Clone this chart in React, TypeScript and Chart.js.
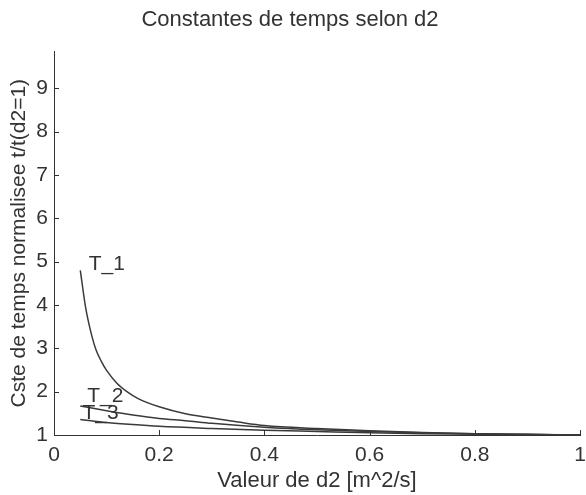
import React, { useEffect, useRef } from "react";
import { Chart, registerables } from "chart.js";

Chart.register(...registerables);

const titleText = "Constantes de temps selon d2";
const xTitle = "Valeur de d2 [m^2/s]";
const yTitle = "Cste de temps normalisee t/t(d2=1)";

const xTicks = [0, 0.2, 0.4, 0.6, 0.8, 1];
const yTicks = [1, 2, 3, 4, 5, 6, 7, 8, 9];

const t1X = [0.05, 0.06, 0.07, 0.08, 0.09, 0.1, 0.12, 0.14, 0.16, 0.2, 0.25, 0.3, 0.35, 0.4, 0.5, 0.6, 0.7, 0.8, 0.9, 1.0];
const t1Y = [4.8, 3.95, 3.38, 2.96, 2.7, 2.49, 2.19, 1.99, 1.84, 1.65, 1.49, 1.39, 1.3, 1.22, 1.15, 1.1, 1.06, 1.03, 1.015, 1.0];

const t2X = [0.05, 0.1, 0.15, 0.2, 0.25, 0.3, 0.4, 0.5, 0.6, 0.7, 0.8, 0.9, 1.0];
const t2Y = [1.67, 1.56, 1.46, 1.38, 1.33, 1.27, 1.18, 1.12, 1.08, 1.05, 1.03, 1.01, 1.0];

const t3X = [0.05, 0.1, 0.15, 0.2, 0.3, 0.4, 0.5, 0.6, 0.7, 0.8, 0.9, 1.0];
const t3Y = [1.36, 1.29, 1.24, 1.2, 1.15, 1.11, 1.08, 1.05, 1.03, 1.02, 1.01, 1.0];

const labelTexts = ["T_1", "T_2", "T_3"];
const labelX = [0.066, 0.063, 0.054];
const labelY = [4.93, 1.9, 1.51];

const FONT = "'Liberation Sans', Arial, Helvetica, sans-serif";
const INK = "#333333";

const toPts = (xs: number[], ys: number[]) => xs.map((x, i) => ({ x, y: ys[i] }));

const decorPlugin = {
  id: "decor",
  afterDatasetsDraw(chart: any) {
    const { ctx, chartArea, scales } = chart;
    const xs = scales.x;
    const ys = scales.y;
    ctx.save();
    ctx.strokeStyle = INK;
    ctx.lineWidth = 1;
    ctx.beginPath();
    xTicks.forEach((v) => {
      const px = Math.round(xs.getPixelForValue(v)) + 0.5;
      ctx.moveTo(px, chartArea.bottom);
      ctx.lineTo(px, chartArea.bottom - 5);
    });
    yTicks.forEach((v) => {
      const py = Math.round(ys.getPixelForValue(v)) + 0.5;
      ctx.moveTo(chartArea.left, py);
      ctx.lineTo(chartArea.left + 5, py);
    });
    ctx.stroke();
    ctx.fillStyle = INK;
    ctx.font = `21px ${FONT}`;
    ctx.textAlign = "left";
    ctx.textBaseline = "middle";
    labelTexts.forEach((t, i) => {
      ctx.fillText(t, xs.getPixelForValue(labelX[i]), ys.getPixelForValue(labelY[i]));
    });
    ctx.restore();
  },
};

export default function App() {
  const ref = useRef<HTMLCanvasElement | null>(null);
  useEffect(() => {
    document.body.style.margin = "0";
    if (!ref.current) return;
    const lineStyle = {
      borderColor: "#3a3a3a",
      borderWidth: 1.5,
      pointRadius: 0,
      fill: false,
      cubicInterpolationMode: "monotone" as const,
    };
    const chart = new Chart(ref.current, {
      type: "line",
      data: {
        datasets: [
          { label: "T_1", data: toPts(t1X, t1Y), ...lineStyle },
          { label: "T_2", data: toPts(t2X, t2Y), ...lineStyle },
          { label: "T_3", data: toPts(t3X, t3Y), ...lineStyle },
        ],
      },
      options: {
        animation: false,
        responsive: false,
        layout: { padding: { left: 0, right: 6, top: 0, bottom: 0 } },
        plugins: {
          legend: { display: false },
          tooltip: { enabled: false },
          title: {
            display: true,
            text: titleText,
            color: INK,
            font: { family: FONT, size: 22, weight: "normal" },
            padding: { top: 7, bottom: 18 },
          },
        },
        scales: {
          x: {
            type: "linear",
            min: 0,
            max: 1,
            afterFit: (s: any) => {
              s.height = 60;
              s.paddingLeft = 0;
              s.paddingRight = 0;
            },
            afterBuildTicks: (s: any) => {
              s.ticks = xTicks.map((v) => ({ value: v }));
            },
            grid: { display: false, drawTicks: false },
            border: { display: true, color: INK, width: 1 },
            ticks: {
              color: INK,
              font: { family: FONT, size: 21 },
              padding: 8,
              maxRotation: 0,
              callback: (v: any) => String(v),
            },
            title: {
              display: true,
              text: xTitle,
              color: INK,
              font: { family: FONT, size: 22 },
              padding: { top: 0, bottom: 1 },
            },
          },
          y: {
            type: "linear",
            min: 1,
            max: 9.85,
            afterFit: (s: any) => {
              s.width = 54;
              s.paddingTop = 0;
              s.paddingBottom = 0;
            },
            afterBuildTicks: (s: any) => {
              s.ticks = yTicks.map((v) => ({ value: v }));
            },
            grid: { display: false, drawTicks: false },
            border: { display: true, color: INK, width: 1 },
            ticks: {
              color: INK,
              font: { family: FONT, size: 21 },
              padding: 6,
              callback: (v: any) => String(v),
            },
            title: {
              display: true,
              text: yTitle,
              color: INK,
              font: { family: FONT, size: 21 },
              padding: { top: 7, bottom: 0 },
            },
          },
        },
      },
      plugins: [decorPlugin],
    });
    return () => chart.destroy();
  }, []);
  return (
    <div style={{ width: 586, height: 495, background: "#fff" }}>
      <canvas ref={ref} width={586} height={495} />
    </div>
  );
}
